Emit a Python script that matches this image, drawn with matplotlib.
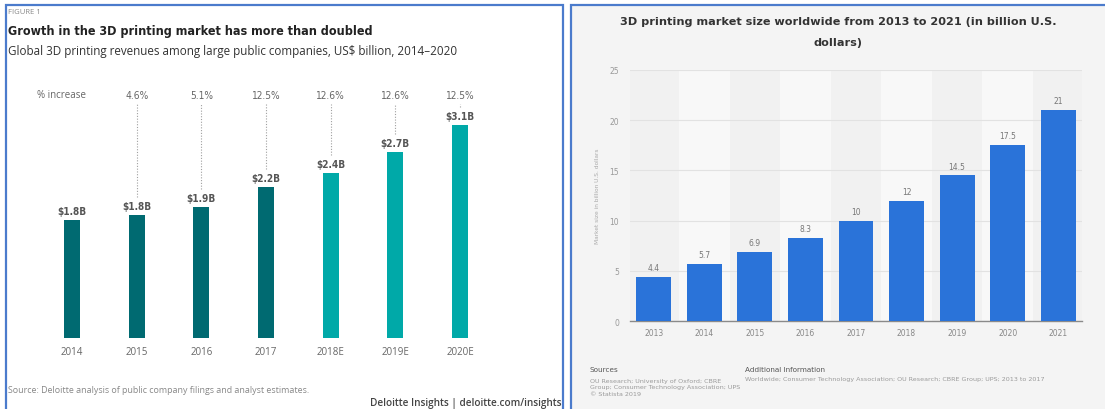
import matplotlib
matplotlib.use("Agg")
import matplotlib.pyplot as plt
from matplotlib.patches import Rectangle

# ---- data ------------------------------------------------------------------
# left: Deloitte figure
dl_years = ["2014", "2015", "2016", "2017", "2018E", "2019E", "2020E"]
dl_values = [1.72, 1.79, 1.91, 2.20, 2.40, 2.71, 3.10]
dl_labels = ["$1.8B", "$1.8B", "$1.9B", "$2.2B", "$2.4B", "$2.7B", "$3.1B"]
dl_increase = ["4.6%", "5.1%", "12.5%", "12.6%", "12.6%", "12.5%"]   # 2015..2020E
dl_estimate = [False, False, False, False, True, True, True]

# right: Statista figure
st_years = ["2013", "2014", "2015", "2016", "2017", "2018", "2019", "2020", "2021"]
st_values = [4.4, 5.7, 6.9, 8.3, 10, 12, 14.5, 17.5, 21]
st_labels = ["4.4", "5.7", "6.9", "8.3", "10", "12", "14.5", "17.5", "21"]

# ---- layout helpers ----------------------------------------------------------
W, H = 1105, 410
fig = plt.figure(figsize=(W / 100, H / 100), dpi=100)
fig.patch.set_facecolor("white")

def fx(px):
    return px / W

def fy(py):
    return 1 - py / H

OPEN = "Open Sans"
COND = dict(family="DejaVu Sans", fontstretch="condensed")
BORDER = "#4b7bcc"

# panel frames (behind the axes)
fig.patches.append(Rectangle((fx(6), fy(414)), fx(563) - fx(6), fy(6) - fy(414),
                             transform=fig.transFigure, facecolor="white",
                             edgecolor=BORDER, lw=1.6, zorder=-5))
fig.patches.append(Rectangle((fx(571), fy(414)), fx(1108) - fx(571), fy(6) - fy(414),
                             transform=fig.transFigure, facecolor="#f4f4f4",
                             edgecolor=BORDER, lw=1.6, zorder=-5))

# ---- left panel: Deloitte -----------------------------------------------------
fig.text(fx(8), fy(12), "FIGURE 1", fontsize=5.5, color="#888888", family=OPEN, va="center")
fig.text(fx(8), fy(32), "Growth in the 3D printing market has more than doubled",
         fontsize=9.0, fontweight="bold", color="#222222", va="center", **COND)
fig.text(fx(8), fy(52), "Global 3D printing revenues among large public companies, US$ billion, 2014\u20132020",
         fontsize=8.4, color="#333333", family=OPEN, va="center")
fig.text(fx(8), fy(391), "Source: Deloitte analysis of public company filings and analyst estimates.",
         fontsize=6.4, color="#888888", family=OPEN, va="center")
fig.text(fx(561), fy(404), "Deloitte Insights | deloitte.com/insights",
         fontsize=7.2, fontweight="semibold", color="#444444", family=OPEN,
         va="center", ha="right")

PXU = 68.7  # pixels per billion
axl = fig.add_axes([fx(39.7), fy(339), (492.3 - 39.7) / W, (339 - 90) / H])
axl.set_xlim(-0.5, 6.5)
axl.set_ylim(0, 249 / PXU)
axl.set_facecolor("none")
x = list(range(len(dl_years)))
colors = ["#00a9a8" if e else "#006a71" for e in dl_estimate]
axl.bar(x, dl_values, width=0.25, color=colors)
for s in axl.spines.values():
    s.set_visible(False)
axl.set_yticks([])
axl.set_xticks(x)
axl.set_xticklabels(dl_years, fontsize=7, color="#666666", family=OPEN)
axl.tick_params(axis="x", length=0, pad=6)

for i, (v, lab) in enumerate(zip(dl_values, dl_labels)):
    axl.annotate(lab, (i, v), xytext=(0, 3), textcoords="offset points",
                 ha="center", va="bottom", fontsize=7.2, fontweight="bold",
                 color="#555555", **COND)

pct_y = (339 - 96) / PXU
axl.text(-0.17, pct_y, "% increase", ha="center", va="center", fontsize=7.0,
         color="#666666", family=OPEN, clip_on=False)
for i, p in enumerate(dl_increase, start=1):
    axl.text(i, pct_y, p, ha="center", va="center", fontsize=7.3,
             color="#666666", clip_on=False, **COND)
    axl.vlines(i, dl_values[i] + 18 / PXU, (339 - 105) / PXU,
               colors="#a0a0a0", linestyles=(0, (1, 1.5)), lw=0.8)

# ---- right panel: Statista ----------------------------------------------------
fig.text(fx(838), fy(22), "3D printing market size worldwide from 2013 to 2021 (in billion U.S.",
         fontsize=8.1, fontweight="bold", color="#333333", ha="center", va="center")
fig.text(fx(838), fy(43), "dollars)", fontsize=8.1, fontweight="bold", color="#333333",
         ha="center", va="center")

axr = fig.add_axes([fx(630), fy(322), (1082 - 630) / W, (322 - 71) / H])
axr.set_xlim(-0.47, len(st_years) - 0.53)
axr.set_ylim(0, 25)
axr.set_facecolor("#f1f1f1")
for i in range(1, len(st_years), 2):
    axr.axvspan(i - 0.5, i + 0.5, color="#f8f8f8", lw=0, zorder=0)
xr = list(range(len(st_years)))
axr.bar(xr, st_values, width=0.69, color="#2a73d9", zorder=3)
axr.set_yticks([0, 5, 10, 15, 20, 25])
axr.yaxis.grid(True, color="#e2e2e2", lw=0.8, zorder=1)
axr.set_axisbelow(True)
for k, s in axr.spines.items():
    s.set_visible(k == "bottom")
axr.spines["bottom"].set_color("#8a8a8a")
axr.spines["bottom"].set_linewidth(1.0)
axr.set_xticks(xr)
axr.set_xticklabels(st_years, fontsize=5.5, color="#888888")
axr.tick_params(axis="x", length=0, pad=5)
axr.tick_params(axis="y", length=0, pad=8, labelsize=5.5, labelcolor="#999999")
axr.set_ylabel("Market size in billion U.S. dollars", fontsize=4.2, color="#aaaaaa", labelpad=7)
for i, (v, lab) in enumerate(zip(st_values, st_labels)):
    axr.annotate(lab, (i, v), xytext=(0, 3.5), textcoords="offset points",
                 ha="center", va="bottom", fontsize=5.5, color="#777777")

fig.text(fx(590), fy(370), "Sources", fontsize=5.2, color="#555555", va="center")
fig.text(fx(590), fy(388),
         "OU Research; University of Oxford; CBRE\nGroup; Consumer Technology Association; UPS\n\u00a9 Statista 2019",
         fontsize=4.6, color="#9a9a9a", va="center", linespacing=1.35)
fig.text(fx(745), fy(370), "Additional Information", fontsize=5.2, color="#555555", va="center")
fig.text(fx(745), fy(380),
         "Worldwide; Consumer Technology Association; OU Research; CBRE Group; UPS; 2013 to 2017",
         fontsize=4.6, color="#9a9a9a", va="center")

fig.savefig("out.png", dpi=100)
